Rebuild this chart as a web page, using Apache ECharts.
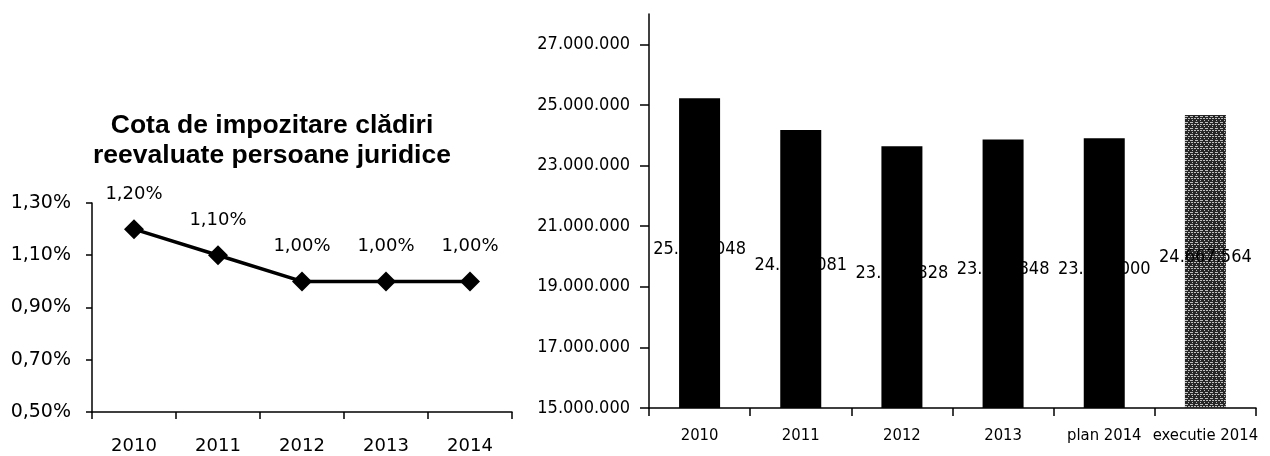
<!DOCTYPE html>
<html>
<head>
<meta charset="utf-8">
<script src="https://cdn.jsdelivr.net/npm/echarts@6/dist/echarts.min.js"></script>
<style>
  html, body { margin: 0; padding: 0; background: #fff; }
  #chart { width: 1270px; height: 456px; }
</style>
</head>
<body>
<div id="chart"></div>
<script>
// Tax rate on revalued buildings (legal entities), percent
const rateYears = ['2010', '2011', '2012', '2013', '2014'];
const rateValues = [1.20, 1.10, 1.00, 1.00, 1.00];
const rateTicks = [0.5, 0.7, 0.9, 1.1, 1.3];

// Collected amounts, lei
const amountCategories = ['2010', '2011', '2012', '2013', 'plan 2014', 'executie 2014'];
const amountValues = [25224048, 24175081, 23638828, 23856848, 23900000, 24667564];
const amountTicks = [15000000, 17000000, 19000000, 21000000, 23000000, 25000000, 27000000];

const titleText = 'Cota de impozitare clădiri\nreevaluate persoane juridice';

const leftFont = "'DejaVu Sans', sans-serif";
const rightFont = "'DejaVu Sans Condensed', sans-serif";

function dotted(n) {
  return String(Math.round(n)).replace(/\B(?=(\d{3})+(?!\d))/g, '.');
}
function pct(v) {
  return v.toFixed(2).replace('.', ',') + '%';
}

const chart = echarts.init(document.getElementById('chart'), null, { renderer: 'canvas' });

chart.setOption({
  animation: false,
  backgroundColor: '#ffffff',
  title: {
    text: titleText,
    left: 267,
    top: 106,
    textAlign: 'center',
    textStyle: {
      fontFamily: "'Liberation Sans', Arial, sans-serif",
      fontWeight: 'bold',
      fontSize: 26.5,
      lineHeight: 30,
      color: '#000'
    }
  },
  grid: [
    { left: 92, width: 420, top: 203, bottom: 44 },
    { left: 649, right: 14, top: 14, bottom: 48 }
  ],
  xAxis: [
    {
      type: 'category',
      gridIndex: 0,
      data: rateYears,
      boundaryGap: true,
      axisLine: { lineStyle: { color: '#000', width: 1.5 } },
      axisTick: { show: true, length: 7, lineStyle: { color: '#000', width: 1.5 } },
      axisLabel: { margin: 25, fontFamily: leftFont, fontSize: 18, color: '#000' }
    },
    {
      type: 'category',
      gridIndex: 1,
      data: amountCategories,
      boundaryGap: true,
      axisLine: { lineStyle: { color: '#000', width: 1.5 } },
      axisTick: { show: true, length: 8, lineStyle: { color: '#000', width: 1.5 } },
      axisLabel: { margin: 19, fontFamily: rightFont, fontSize: 16.5, color: '#000', interval: 0 }
    }
  ],
  yAxis: [
    {
      type: 'value',
      gridIndex: 0,
      min: 0.5,
      max: 1.3,
      splitLine: { show: false },
      axisLine: { show: true, lineStyle: { color: '#000', width: 1.5 } },
      axisTick: { show: true, length: 6, customValues: rateTicks, lineStyle: { color: '#000', width: 1.5 } },
      axisLabel: {
        margin: 21, fontFamily: leftFont, fontSize: 19, color: '#000',
        customValues: rateTicks,
        formatter: pct
      }
    },
    {
      type: 'value',
      gridIndex: 1,
      min: 15000000,
      max: 28000000,
      splitLine: { show: false },
      axisLine: { show: true, lineStyle: { color: '#000', width: 1.5 } },
      axisTick: { show: true, length: 9, customValues: amountTicks, lineStyle: { color: '#000', width: 1.5 } },
      axisLabel: {
        margin: 19, fontFamily: rightFont, fontSize: 18, color: '#000',
        customValues: amountTicks,
        formatter: dotted
      }
    }
  ],
  series: [
    {
      type: 'line',
      xAxisIndex: 0,
      yAxisIndex: 0,
      data: rateValues,
      symbol: 'diamond',
      symbolSize: 20,
      lineStyle: { color: '#000', width: 3.5 },
      itemStyle: { color: '#000' },
      label: {
        show: true,
        position: 'top',
        distance: 16,
        fontFamily: leftFont,
        fontSize: 18,
        color: '#000',
        formatter: p => pct(p.value)
      }
    },
    {
      type: 'bar',
      xAxisIndex: 1,
      yAxisIndex: 1,
      barWidth: 41,
      data: amountValues.map((v, i) => i === amountValues.length - 1
        ? {
            value: v,
            itemStyle: {
              color: '#262626',
              decal: {
                symbol: 'rect',
                symbolSize: 1,
                color: 'rgba(255,255,255,0.7)',
                dashArrayX: [[2, 1], [1, 3], [3, 2]],
                dashArrayY: [1, 1],
                rotation: 0
              }
            }
          }
        : v),
      itemStyle: { color: '#000' },
      label: {
        show: true,
        position: 'inside',
        offset: [0, -4],
        fontFamily: rightFont,
        fontSize: 18,
        color: '#000',
        formatter: p => dotted(p.value)
      }
    }
  ]
});
</script>
</body>
</html>
